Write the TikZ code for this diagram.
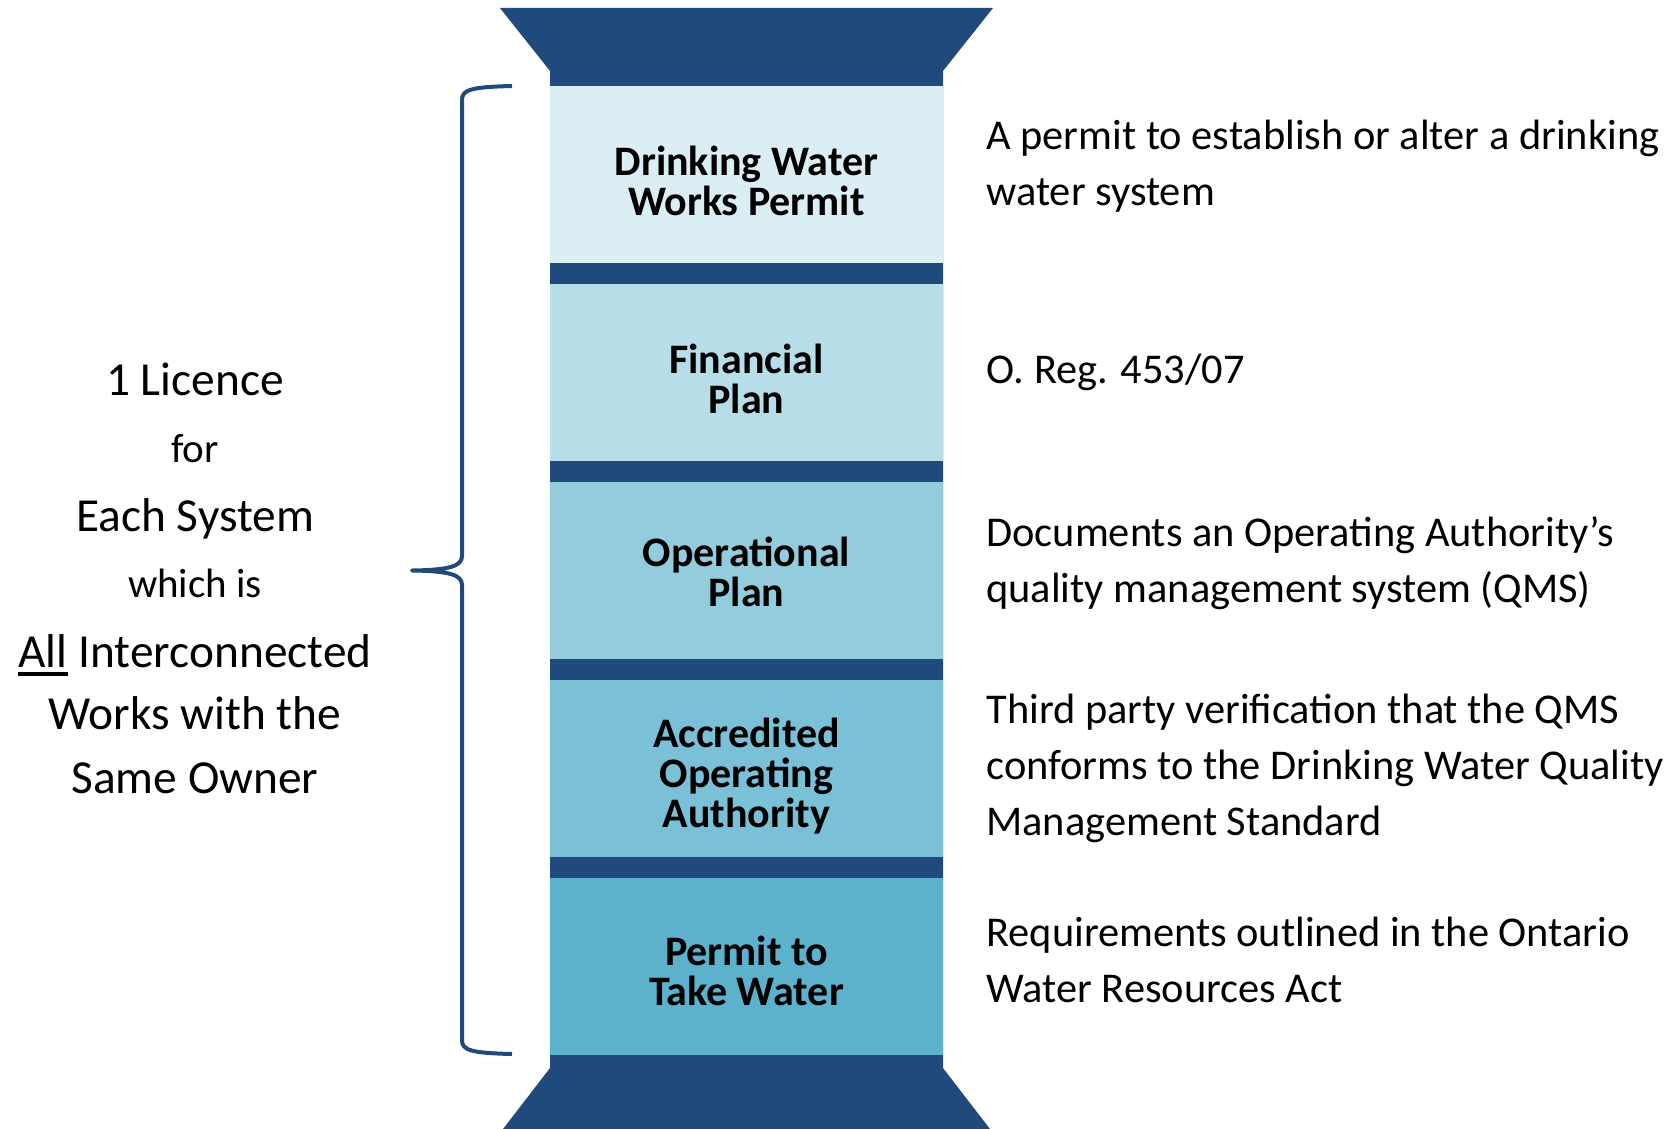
\documentclass[tikz,border=0pt]{standalone}
\usepackage{fontspec}
\setmainfont{Carlito}
\usepackage{tikz}

\definecolor{navy}{RGB}{33,74,124}
\definecolor{tintA}{RGB}{218,238,243}
\definecolor{tintB}{RGB}{183,221,232}
\definecolor{tintC}{RGB}{147,205,221}
\definecolor{tintD}{RGB}{122,192,214}
\definecolor{tintE}{RGB}{92,178,204}

\newcommand{\lineunder}[1]{\setbox0\hbox{#1}\rlap{\rule[-4.5pt]{\wd0}{2pt}}\box0\relax}

\tikzset{
  layer/.style={minimum width=196.5pt, minimum height=88.5pt, inner sep=0pt},
  layertext/.style={anchor=base, align=center, inner sep=0pt,
    font=\fontsize{21}{20}\selectfont\bfseries},
  note/.style={anchor=base west, align=left, inner sep=0pt, font=\fontsize{21.2}{28}\selectfont},
  bigline/.style={anchor=base, inner sep=0pt, font=\fontsize{23.7}{28}\selectfont},
  smallline/.style={anchor=base, inner sep=0pt, font=\fontsize{20.5}{24}\selectfont},
}

\begin{document}
\begin{tikzpicture}[x=0.5pt, y=-0.5pt]

\useasboundingbox (0,0) rectangle (1675,1129);

% column with the two flared ends
\fill[navy] (500,8) -- (993,8) -- (943,71) -- (943,1068) -- (990,1129)
  -- (503,1129) -- (550,1068) -- (550,71) -- cycle;

\node[layer, fill=tintA] (dwwp) at (746.5,174.5) {};
\node[layer, fill=tintB] (fp) at (746.5,372.5) {};
\node[layer, fill=tintC] (op) at (746.5,570.5) {};
\node[layer, fill=tintD] (aoa) at (746.5,768.5) {};
\node[layer, fill=tintE] (pttw) at (746.5,966.5) {};

% labels sit on the baseline of their last line
\node[layertext] (dwwplabel) at (746.5,215) {Drinking Water\\Works Permit};
\node[layertext] (fplabel) at (746.5,413) {Financial\\Plan};
\node[layertext] (oplabel) at (746.5,606) {Operational\\Plan};
\node[layertext] (aoalabel) at (746.5,827) {Accredited\\Operating\\Authority};
\node[layertext] (pttwlabel) at (746.5,1005) {Permit to\\Take Water};

% notes on the right
\node[note] (dwwpnote) at (986,205) {A permit to establish or alter a drinking\\water system};
\node[note] (fpnote) at (986,383) {O. Reg. 453/07};
\node[note] (opnote) at (986,602) {Documents an Operating Authority’s\\quality management system (QMS)};
\node[note] (aoanote) at (986,835) {Third party verification that the QMS\\conforms to the Drinking Water Quality\\Management Standard};
\node[note] (pttwnote) at (986,1002) {Requirements outlined in the Ontario\\Water Resources Act};

% licence text on the left
\node[bigline] (lic) at (195,395) {1 Licence};
\node[smallline] (for) at (195,462) {for};
\node[bigline] (each) at (195,531) {Each System};
\node[smallline] (which) at (195,597) {which is};
\node[bigline] (all) at (195,667) {\lineunder{All} Interconnected};
\node[bigline] (works) at (195,729) {Works with the};
\node[bigline] (owner) at (195,793) {Same Owner};

% brace
\draw[navy, line width=2pt, line join=round] (512,86) .. controls (470,87) and (462,90) .. (462,100)
  -- (462,556) .. controls (462,566) and (450,570) .. (412,570.5)
  .. controls (450,571) and (462,575) .. (462,585)
  -- (462,1040) .. controls (462,1050) and (470,1053) .. (512,1054);

\end{tikzpicture}
\end{document}
